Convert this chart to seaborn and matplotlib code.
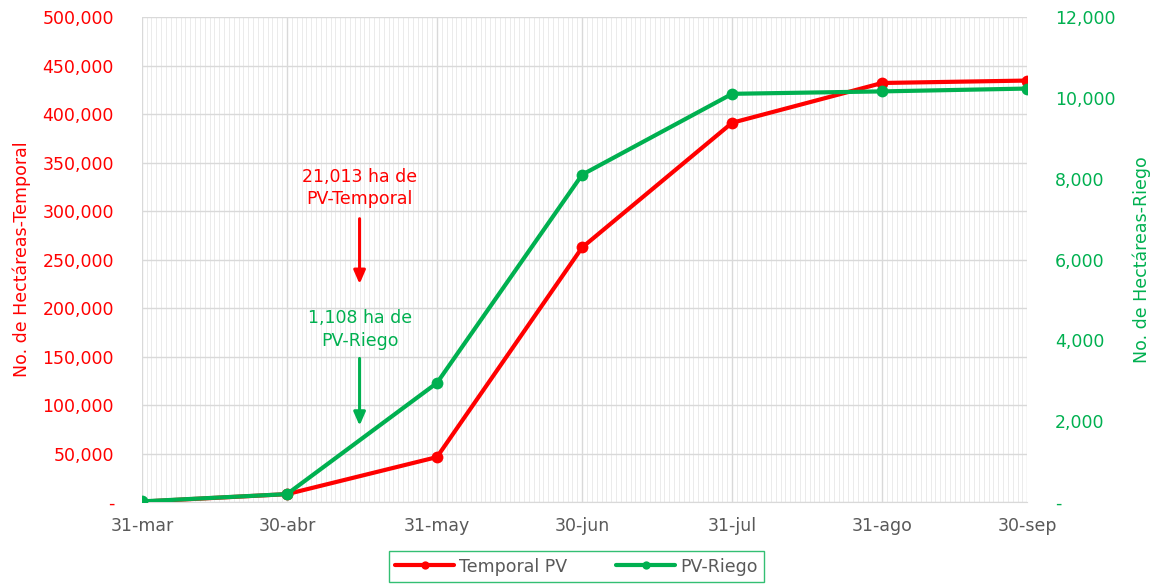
import matplotlib
matplotlib.use("Agg")
import matplotlib.pyplot as plt
import matplotlib.dates as mdates
import matplotlib.ticker as mticker
import seaborn as sns
import pandas as pd

# Data
fechas = ["2023-03-31", "2023-04-30", "2023-05-31", "2023-06-30",
          "2023-07-31", "2023-08-31", "2023-09-30"]
etiquetas = ["31-mar", "30-abr", "31-may", "30-jun", "31-jul", "31-ago", "30-sep"]
temporal = [600, 8300, 46500, 262500, 391000, 432000, 434500]
riego = [20, 200, 2950, 8100, 10100, 10160, 10230]

ROJO = "#FF0000"
VERDE = "#00B050"
GRIS = "#595959"

sns.set_style("white")
plt.rcParams["font.family"] = ["DejaVu Sans"]

df = pd.DataFrame({"fecha": pd.to_datetime(fechas), "temporal": temporal, "riego": riego})

fig, ax = plt.subplots(figsize=(11.53, 5.86), dpi=100)
fig.subplots_adjust(left=0.123, right=0.891, top=0.971, bottom=0.143)
ax2 = ax.twinx()

sns.lineplot(data=df, x="fecha", y="temporal", ax=ax, color=ROJO, lw=3,
             marker="o", markersize=8.5, markeredgewidth=0, label="Temporal PV", legend=False)
sns.lineplot(data=df, x="fecha", y="riego", ax=ax2, color=VERDE, lw=3,
             marker="o", markersize=8.5, markeredgewidth=0, label="PV-Riego", legend=False)

ax.set_xlim(df["fecha"].iloc[0], df["fecha"].iloc[-1])
ax.set_ylim(0, 500000)
ax2.set_ylim(0, 12000)

ax.set_xticks(df["fecha"])
ax.set_xticklabels(etiquetas)
ax.xaxis.set_minor_locator(mdates.DayLocator())

ax.yaxis.set_major_locator(mticker.MultipleLocator(50000))
ax2.yaxis.set_major_locator(mticker.MultipleLocator(2000))
fmt = mticker.FuncFormatter(lambda v, p: "-" if v == 0 else f"{v:,.0f}")
ax.yaxis.set_major_formatter(fmt)
ax2.yaxis.set_major_formatter(fmt)

ax.grid(True, which="major", color="#D9D9D9", lw=1)
ax.grid(True, which="minor", axis="x", color="#EBEBEB", lw=0.7)
ax.set_axisbelow(True)

for a in (ax, ax2):
    for s in a.spines.values():
        s.set_visible(False)
ax.spines["bottom"].set_visible(True)
ax.spines["bottom"].set_color("#D9D9D9")

ax.tick_params(axis="x", which="major", length=5, color="#D9D9D9", labelsize=12.5,
               labelcolor=GRIS, pad=6)
ax.tick_params(axis="x", which="minor", length=0)
ax.tick_params(axis="y", length=0, labelsize=12.5, labelcolor=ROJO, pad=20)
ax2.tick_params(axis="y", length=0, labelsize=12.5, labelcolor=VERDE, pad=20)

ax.set_xlabel("")
ax.set_ylabel("No. de Hectáreas-Temporal", color=ROJO, fontsize=12.5, labelpad=8)
ax2.set_ylabel("No. de Hectáreas-Riego", color=VERDE, fontsize=12.5, labelpad=12)

# Annotations
x_ann = pd.Timestamp("2023-05-15")
ax.text(x_ann, 324000, "21,013 ha de\nPV-Temporal", color=ROJO, fontsize=12.5,
        ha="center", va="center", linespacing=1.3)
ax.annotate("", xy=(x_ann, 222000), xytext=(x_ann, 295000),
            arrowprops=dict(arrowstyle="-|>,head_width=0.35,head_length=0.8", color=ROJO, lw=2.2))
ax.text(x_ann, 178000, "1,108 ha de\nPV-Riego", color=VERDE, fontsize=12.5,
        ha="center", va="center", linespacing=1.3)
ax.annotate("", xy=(x_ann, 76000), xytext=(x_ann, 151000),
            arrowprops=dict(arrowstyle="-|>,head_width=0.35,head_length=0.8", color=VERDE, lw=2.2))

h1, l1 = ax.get_legend_handles_labels()
h2, l2 = ax2.get_legend_handles_labels()
leg = fig.legend(h1 + h2, l1 + l2, loc="upper center", bbox_to_anchor=(0.5, 0.059),
                 ncol=2, frameon=True, fancybox=False, fontsize=12.5, handlelength=3.4,
                 columnspacing=2.8, borderpad=0.35, handletextpad=0.3, markerscale=0.7,
                 borderaxespad=0)
leg.get_frame().set_edgecolor(VERDE)
leg.get_frame().set_linewidth(1)
for t in leg.get_texts():
    t.set_color(GRIS)

fig.savefig("out.png", dpi=100)
